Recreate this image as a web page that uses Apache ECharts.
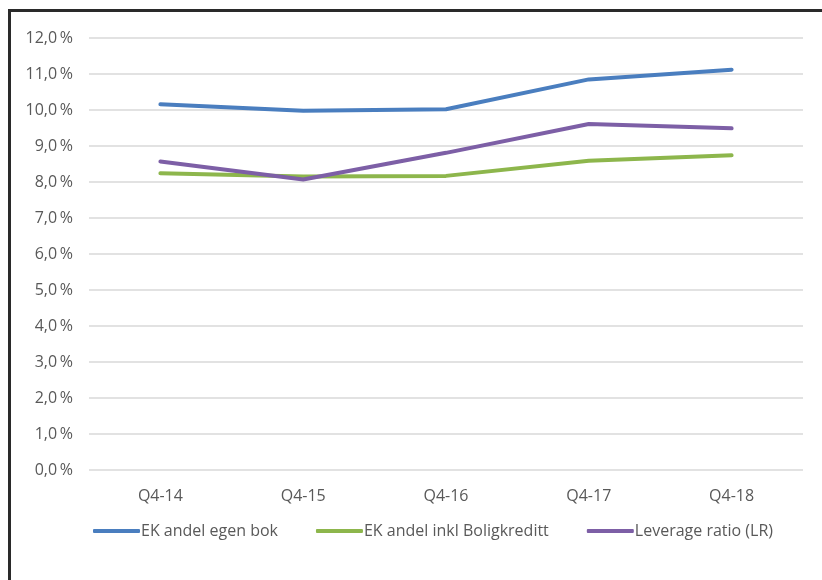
<!DOCTYPE html>
<html>
<head>
<meta charset="utf-8">
<script src="https://cdn.jsdelivr.net/npm/echarts@6/dist/echarts.min.js"></script>
<style>
  html, body { margin: 0; padding: 0; background: #fff; }
  #frame { position: absolute; left: 8px; top: 9px; width: 830px; height: 600px;
           border-left: 3px solid #2a2a2a; border-top: 3px solid #2a2a2a; }
  #chart { position: absolute; left: 0; top: 0; width: 822px; height: 580px; }
</style>
</head>
<body>
<div id="frame"></div>
<div id="chart"></div>
<script>
// Quarters on the x axis
const categories = ['Q4-14', 'Q4-15', 'Q4-16', 'Q4-17', 'Q4-18'];

// Equity ratios, in percent
const ekEgenBok = [10.16, 9.98, 10.02, 10.85, 11.12];
const ekInklBoligkreditt = [8.24, 8.15, 8.17, 8.59, 8.74];
const leverageRatio = [8.57, 8.07, 8.81, 9.61, 9.49];

const seriesNames = ['EK andel egen bok', 'EK andel inkl Boligkreditt', 'Leverage ratio (LR)'];
const seriesColors = ['#4a7ebf', '#8db64c', '#7d5fa6'];

const font = "'Open Sans', sans-serif";
const textColor = '#595959';

const chart = echarts.init(document.getElementById('chart'), null, { renderer: 'canvas' });

function lineSeries(name, data, color) {
  return {
    name: name,
    type: 'line',
    data: data,
    symbol: 'none',
    lineStyle: { width: 4, color: color, cap: 'round' },
    itemStyle: { color: color },
    emphasis: { disabled: true }
  };
}

chart.setOption({
  animation: false,
  grid: { left: 89, right: 19, top: 38, bottom: 110, containLabel: false },
  xAxis: {
    type: 'category',
    data: categories,
    boundaryGap: true,
    axisLine: { show: false },
    axisTick: { show: false },
    axisLabel: { color: textColor, fontFamily: font, fontSize: 16, margin: 18 }
  },
  yAxis: {
    type: 'value',
    min: 0,
    max: 12,
    interval: 1,
    axisLine: { show: false },
    axisTick: { show: false },
    splitLine: { lineStyle: { color: '#d9d9d9', width: 1.5 } },
    axisLabel: {
      color: textColor, fontFamily: font, fontSize: 16, margin: 16,
      formatter: v => v.toFixed(1).replace('.', ',') + '\u2009%'
    }
  },
  legend: {
    left: 88,
    top: 518,
    itemWidth: 47,
    itemHeight: 4,
    itemGap: 38,
    icon: 'roundRect',
    textStyle: { color: textColor, fontFamily: font, fontSize: 16, padding: [0, 0, 0, -4] },
    data: seriesNames
  },
  series: [
    lineSeries(seriesNames[0], ekEgenBok, seriesColors[0]),
    lineSeries(seriesNames[1], ekInklBoligkreditt, seriesColors[1]),
    lineSeries(seriesNames[2], leverageRatio, seriesColors[2])
  ]
});
</script>
</body>
</html>
